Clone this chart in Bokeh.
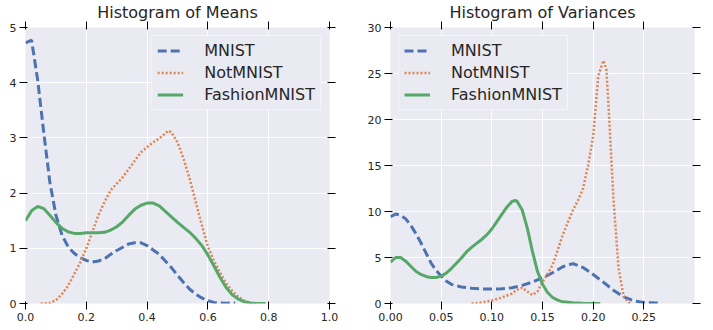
from bokeh.plotting import figure
from bokeh.models import Range1d, FixedTicker, LinearAxis, Legend, LegendItem, CustomJSTickFormatter
from bokeh.layouts import row
from bokeh.embed import file_html
from bokeh.resources import INLINE

# ---------------- data: Histogram of Means ----------------
means_mnist_x = [0.0, 0.02, 0.04, 0.06, 0.08, 0.10, 0.12, 0.14, 0.16, 0.18, 0.20, 0.22, 0.24, 0.26, 0.28,
                 0.30, 0.32, 0.34, 0.36, 0.38, 0.40, 0.42, 0.44, 0.46, 0.48, 0.50, 0.52, 0.54, 0.56,
                 0.58, 0.60, 0.62, 0.64, 0.66, 0.69]
means_mnist_y = [4.72, 4.77, 4.05, 3.1, 2.2, 1.6, 1.24, 1.03, 0.91, 0.83, 0.78, 0.75, 0.77, 0.81, 0.89,
                 0.96, 1.02, 1.08, 1.1, 1.1, 1.05, 0.97, 0.89, 0.77, 0.65, 0.51, 0.38, 0.26, 0.17,
                 0.10, 0.05, 0.02, 0.01, 0.005, 0.01]

means_notmnist_x = [0.05, 0.08, 0.10, 0.12, 0.14, 0.16, 0.18, 0.20, 0.22, 0.24, 0.26, 0.28, 0.30, 0.32,
                    0.34, 0.36, 0.38, 0.40, 0.42, 0.44, 0.46, 0.47, 0.48, 0.50, 0.52, 0.54, 0.56, 0.58,
                    0.60, 0.62, 0.64, 0.66, 0.68, 0.70, 0.72, 0.74, 0.76]
means_notmnist_y = [0.0, 0.01, 0.06, 0.17, 0.32, 0.53, 0.74, 1.0, 1.3, 1.6, 1.84, 2.05, 2.17, 2.29,
                    2.44, 2.59, 2.74, 2.83, 2.92, 2.99, 3.08, 3.13, 3.1, 2.92, 2.62, 2.26, 1.84, 1.42,
                    1.03, 0.77, 0.56, 0.36, 0.23, 0.12, 0.05, 0.01, 0.0]

means_fashion_x = [0.0, 0.02, 0.04, 0.06, 0.08, 0.10, 0.12, 0.14, 0.16, 0.18, 0.20, 0.22, 0.24, 0.26,
                   0.28, 0.30, 0.32, 0.34, 0.36, 0.38, 0.40, 0.42, 0.44, 0.46, 0.48, 0.50, 0.52, 0.54,
                   0.56, 0.58, 0.60, 0.62, 0.64, 0.66, 0.68, 0.70, 0.72, 0.74, 0.76, 0.79]
means_fashion_y = [1.5, 1.68, 1.76, 1.72, 1.6, 1.47, 1.36, 1.3, 1.27, 1.27, 1.28, 1.28, 1.28, 1.29,
                   1.33, 1.39, 1.48, 1.6, 1.71, 1.78, 1.82, 1.82, 1.77, 1.67, 1.57, 1.47, 1.38, 1.29,
                   1.18, 1.05, 0.88, 0.68, 0.47, 0.29, 0.16, 0.08, 0.03, 0.01, 0.0, 0.0]

# ---------------- data: Histogram of Variances ----------------
var_mnist_x = [0.0, 0.005, 0.01, 0.015, 0.02, 0.025, 0.03, 0.035, 0.04, 0.045, 0.05, 0.055, 0.06, 0.07,
               0.08, 0.09, 0.10, 0.11, 0.12, 0.13, 0.14, 0.15, 0.16, 0.17, 0.18, 0.19, 0.20, 0.21,
               0.22, 0.23, 0.24, 0.25, 0.265]
var_mnist_y = [9.44, 9.72, 9.6, 9.2, 8.5, 7.6, 6.6, 5.5, 4.4, 3.6, 3.0, 2.44, 2.08, 1.8,
               1.65, 1.58, 1.58, 1.6, 1.72, 1.97, 2.33, 2.8, 3.34, 4.0, 4.34, 3.9, 3.16, 2.33,
               1.44, 0.72, 0.29, 0.1, 0.05]

var_notmnist_x = [0.08, 0.09, 0.10, 0.11, 0.12, 0.125, 0.13, 0.135, 0.14, 0.145, 0.15, 0.155, 0.16,
                  0.165, 0.17, 0.175, 0.18, 0.185, 0.19, 0.195, 0.20, 0.205, 0.21, 0.213, 0.215,
                  0.22, 0.225, 0.23, 0.235, 0.238]
var_notmnist_y = [0.0, 0.1, 0.32, 0.65, 1.08, 1.5, 1.72, 1.3, 0.93, 1.3, 2.33, 3.2, 4.2,
                  5.8, 7.46, 8.8, 10.15, 11.2, 12.5, 15.0, 18.2, 24.7, 26.4, 25.5, 21.8,
                  11.4, 3.9, 0.8, 0.1, 0.0]

var_fashion_x = [0.0, 0.005, 0.01, 0.015, 0.02, 0.025, 0.03, 0.035, 0.04, 0.045, 0.05, 0.055, 0.06,
                 0.065, 0.07, 0.075, 0.08, 0.085, 0.09, 0.095, 0.10, 0.105, 0.11, 0.115, 0.12, 0.123,
                 0.125, 0.13, 0.135, 0.14, 0.145, 0.15, 0.155, 0.16, 0.165, 0.17, 0.18, 0.19, 0.20, 0.207]
var_fashion_y = [4.48, 5.0, 5.0, 4.6, 4.05, 3.5, 3.16, 2.94, 2.83, 2.83, 2.98, 3.3, 3.8,
                 4.38, 4.95, 5.6, 6.1, 6.53, 6.96, 7.46, 8.1, 8.9, 9.72, 10.5, 11.1, 11.2,
                 11.1, 10.15, 8.2, 5.7, 3.5, 2.1, 1.2, 0.65, 0.36, 0.18, 0.07, 0.03, 0.01, 0.0]

means_xticks = [0.0, 0.2, 0.4, 0.6, 0.8, 1.0]
means_xtick_labels = ["0.0", "0.2", "0.4", "0.6", "0.8", "1.0"]
means_yticks = [0, 1, 2, 3, 4, 5]
means_ytick_labels = ["0", "1", "2", "3", "4", "5"]
var_xticks = [0.0, 0.05, 0.10, 0.15, 0.20, 0.25]
var_xtick_labels = ["0.00", "0.05", "0.10", "0.15", "0.20", "0.25"]
var_yticks = [0, 5, 10, 15, 20, 25, 30]
var_ytick_labels = ["0", "5", "10", "15", "20", "25", "30"]

series_names = ["MNIST", "NotMNIST", "FashionMNIST"]

BLUE = "#4C72B0"
ORANGE = "#DD8452"
GREEN = "#55A868"
BG = "#EAEAF2"
TXT = "#262626"
FONT = "DejaVu Sans"


def style_axis(ax, ticks, labels, show_labels=True):
    ax.ticker = FixedTicker(ticks=ticks)
    ax.axis_line_color = None
    ax.major_tick_line_color = "black"
    ax.major_tick_line_width = 1
    ax.minor_tick_line_color = None
    ax.major_label_text_font = FONT
    ax.major_label_text_color = TXT
    ax.major_label_text_font_size = "11px"
    if show_labels:
        ax.major_label_overrides = {t: l for t, l in zip(ticks, labels)}
        ax.major_label_standoff = 3
    else:
        ax.formatter = CustomJSTickFormatter(code="return '';")
        ax.major_label_standoff = 0


def make_plot(title, xr, yr, xt, xtl, yt, ytl, data, legend_loc, width, bl, br):
    p = figure(width=width, height=330, x_range=Range1d(*xr), y_range=Range1d(*yr),
               output_backend="svg", toolbar_location=None,
               min_border_left=bl, min_border_right=br, min_border_top=24, min_border_bottom=27)
    p.background_fill_color = BG
    p.border_fill_color = "white"
    p.outline_line_color = None
    p.xgrid.grid_line_color = "white"
    p.ygrid.grid_line_color = "white"
    p.xgrid.grid_line_width = 1
    p.ygrid.grid_line_width = 1
    p.xgrid.ticker = FixedTicker(ticks=xt)
    p.ygrid.ticker = FixedTicker(ticks=yt)
    style_axis(p.xaxis[0], xt, xtl)
    style_axis(p.yaxis[0], yt, ytl)
    top = LinearAxis()
    style_axis(top, xt, xtl, show_labels=False)
    p.add_layout(top, "above")
    right = LinearAxis()
    style_axis(right, yt, ytl, show_labels=False)
    p.add_layout(right, "right")

    p.title.text = title
    p.title.align = "center"
    p.title.text_font = FONT
    p.title.text_font_size = "16px"
    p.title.text_font_style = "normal"
    p.title.text_color = TXT
    p.title.standoff = 0
    p.title.offset = 0

    (mx, my), (nx, ny), (fx, fy) = data
    r1 = p.line(mx, my, line_color=BLUE, line_width=3, line_dash="9 4")
    r2 = p.line(nx, ny, line_color=ORANGE, line_width=2.5, line_dash="2 2")
    r3 = p.line(fx, fy, line_color=GREEN, line_width=3)

    legend = Legend(items=[LegendItem(label=series_names[0], renderers=[r1]),
                           LegendItem(label=series_names[1], renderers=[r2]),
                           LegendItem(label=series_names[2], renderers=[r3])],
                    location=legend_loc)
    legend.label_text_font = FONT
    legend.label_text_font_size = "16px"
    legend.label_text_color = TXT
    legend.background_fill_color = BG
    legend.background_fill_alpha = 1.0
    legend.border_line_color = "white"
    legend.border_line_width = 1.2
    legend.padding = 5
    legend.spacing = 3
    legend.margin = 8
    legend.glyph_width = 26
    legend.glyph_height = 19
    legend.label_height = 19
    legend.label_standoff = 21
    p.add_layout(legend, "center")
    return p


p1 = make_plot("Histogram of Means", (0, 1), (0, 5), means_xticks, means_xtick_labels,
               means_yticks, means_ytick_labels,
               [(means_mnist_x, means_mnist_y), (means_notmnist_x, means_notmnist_y),
                (means_fashion_x, means_fashion_y)], "top_right", 358, 25, 29)
p2 = make_plot("Histogram of Variances", (0, 0.3), (0, 30), var_xticks, var_xtick_labels,
               var_yticks, var_ytick_labels,
               [(var_mnist_x, var_mnist_y), (var_notmnist_x, var_notmnist_y),
                (var_fashion_x, var_fashion_y)], "top_left", 355, 32, 19)

layout = row(p1, p2)
open("out.html", "w").write(file_html(layout, INLINE))
